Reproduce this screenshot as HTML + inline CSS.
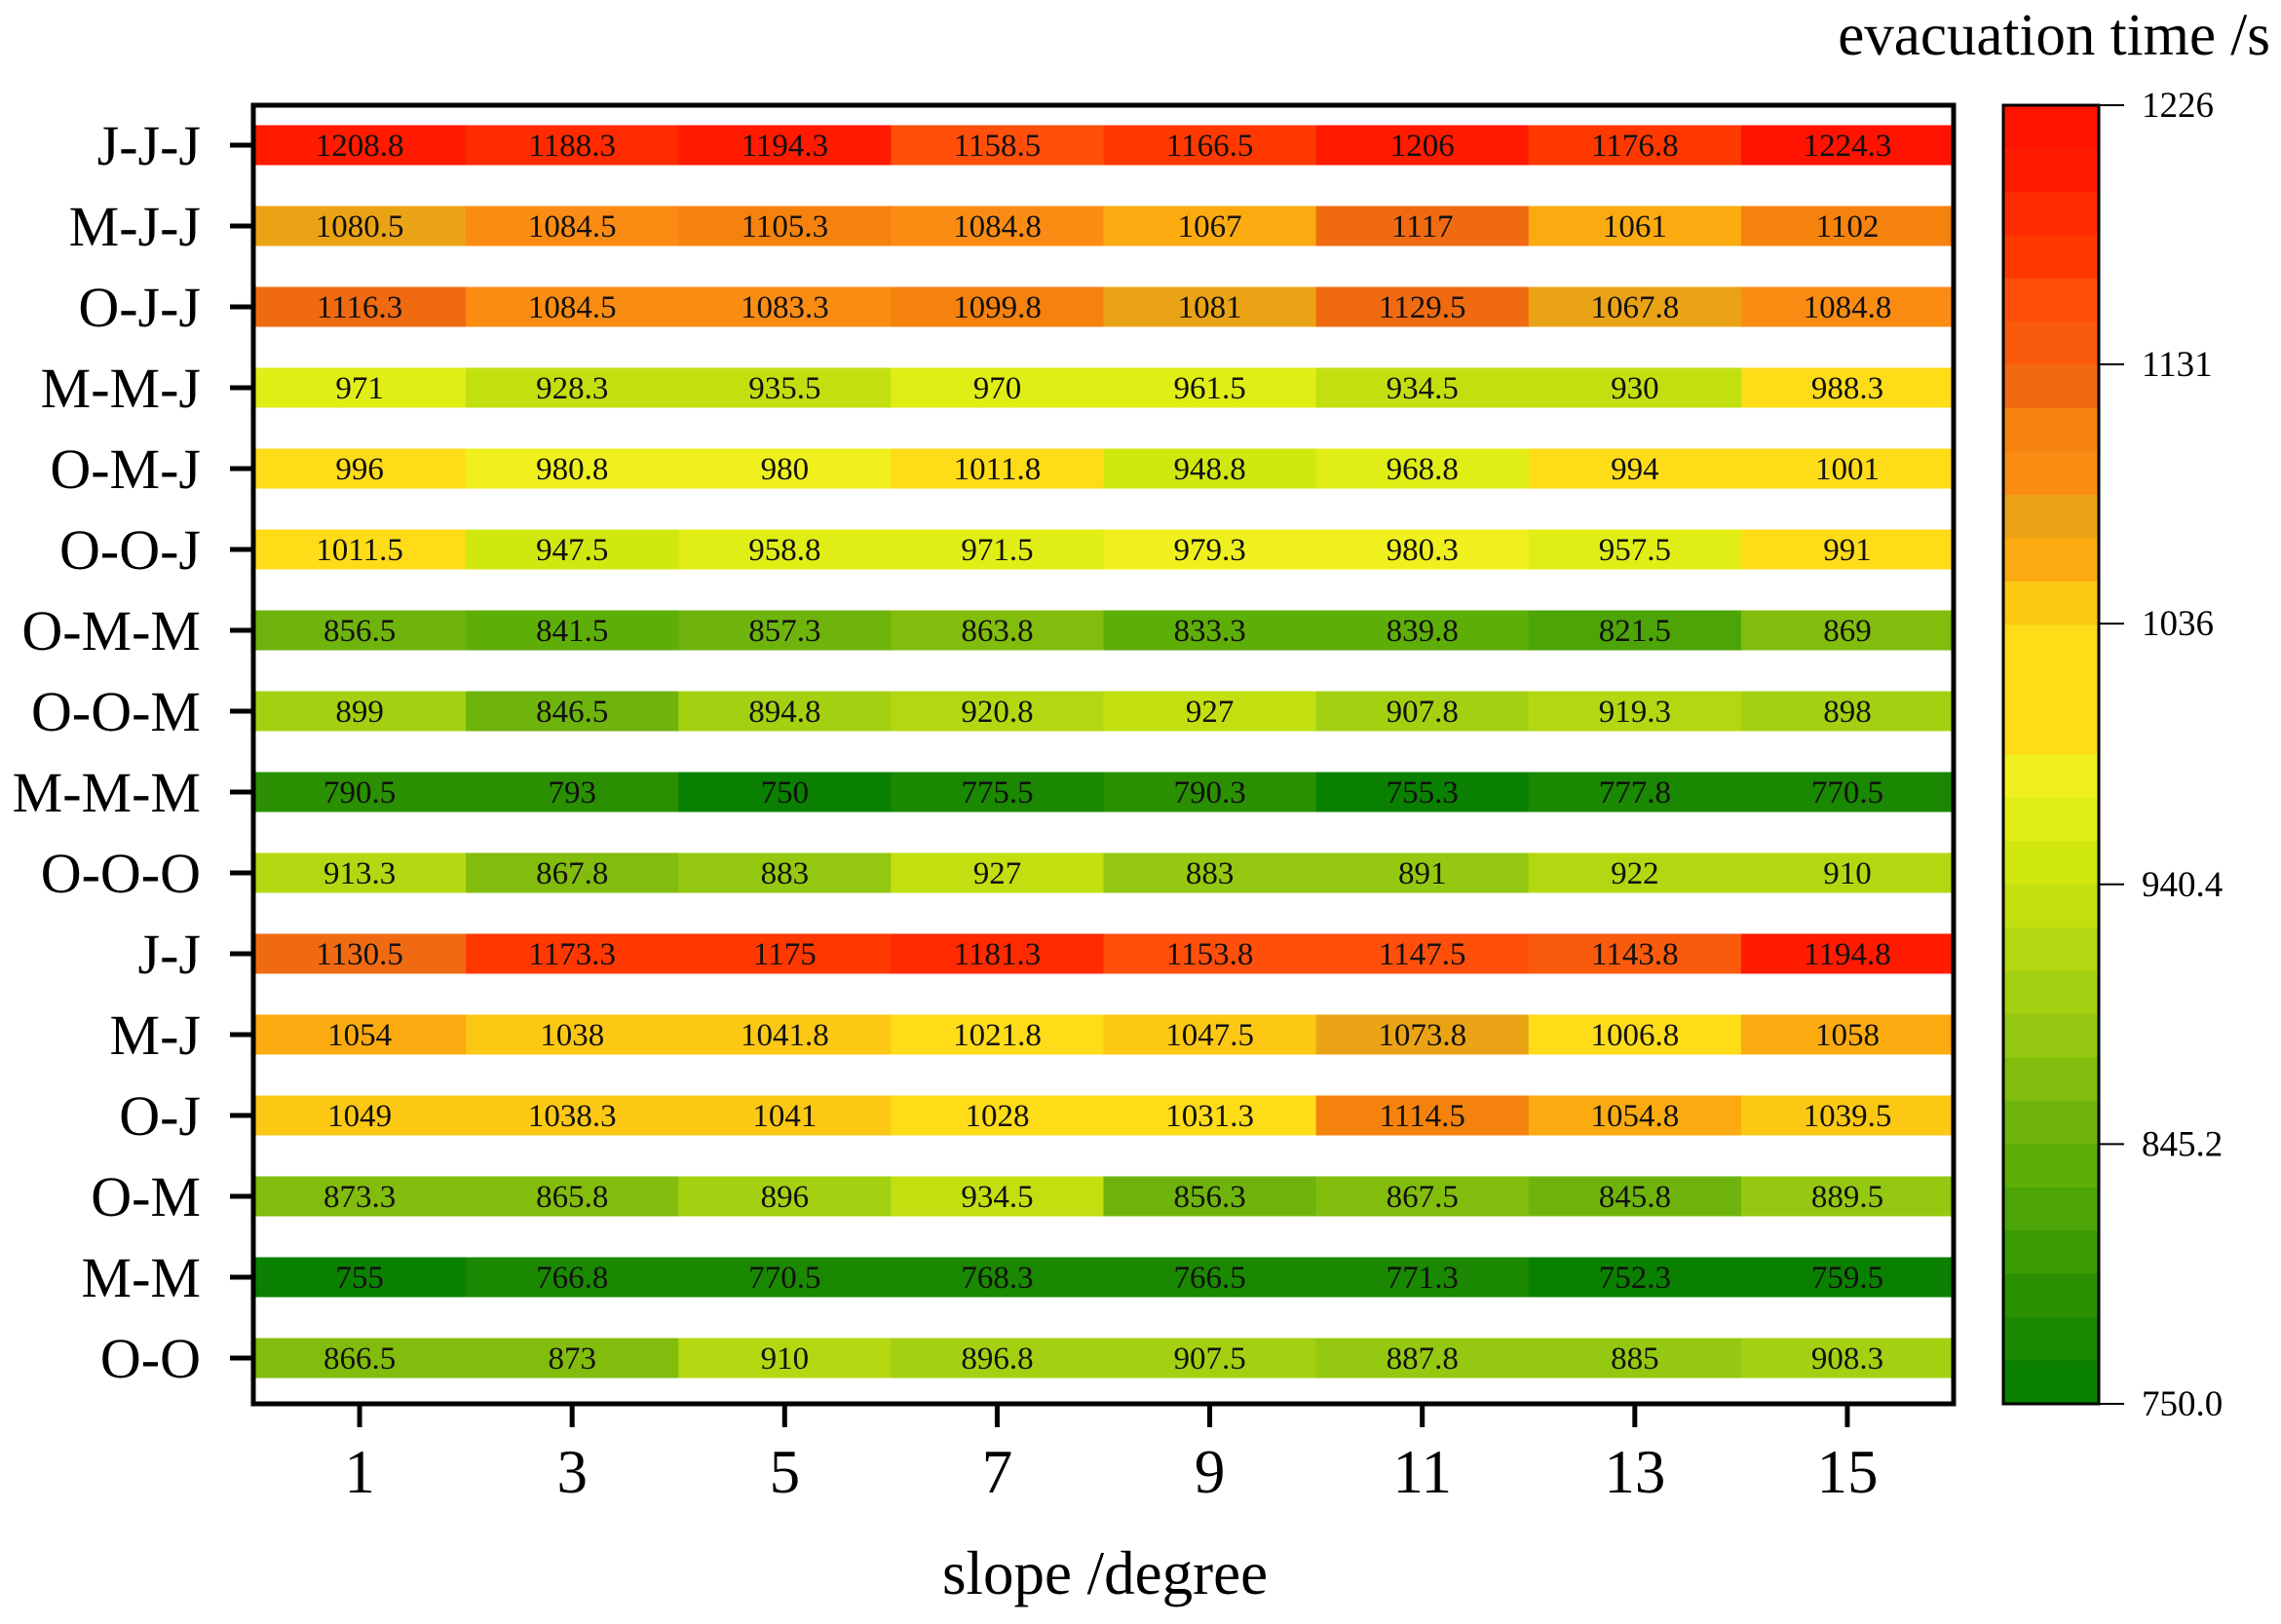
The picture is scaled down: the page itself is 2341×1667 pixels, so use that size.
<!DOCTYPE html>
<html><head><meta charset="utf-8"><style>
html,body{margin:0;padding:0;background:#fff;}
svg{display:block;font-family:"Liberation Serif",serif;}
</style></head><body>
<svg id="chart" width="2341" height="1667" viewBox="0 0 2341 1667" xmlns="http://www.w3.org/2000/svg">
<g id="cells"></g>
<g id="axes"></g>
<g id="cbar"></g>
<text x="2330" y="56" font-size="61" text-anchor="end">evacuation time /s</text>
<text x="1134" y="1636" font-size="63" text-anchor="middle">slope /degree</text>
</svg>
<script>
const categories = ["J-J-J","M-J-J","O-J-J","M-M-J","O-M-J","O-O-J","O-M-M","O-O-M","M-M-M","O-O-O","J-J","M-J","O-J","O-M","M-M","O-O"];
const slopes = [1,3,5,7,9,11,13,15];
const rowJJJ = [1208.8,1188.3,1194.3,1158.5,1166.5,1206,1176.8,1224.3];
const rowMJJ = [1080.5,1084.5,1105.3,1084.8,1067,1117,1061,1102];
const rowOJJ = [1116.3,1084.5,1083.3,1099.8,1081,1129.5,1067.8,1084.8];
const rowMMJ = [971,928.3,935.5,970,961.5,934.5,930,988.3];
const rowOMJ = [996,980.8,980,1011.8,948.8,968.8,994,1001];
const rowOOJ = [1011.5,947.5,958.8,971.5,979.3,980.3,957.5,991];
const rowOMM = [856.5,841.5,857.3,863.8,833.3,839.8,821.5,869];
const rowOOM = [899,846.5,894.8,920.8,927,907.8,919.3,898];
const rowMMM = [790.5,793,750,775.5,790.3,755.3,777.8,770.5];
const rowOOO = [913.3,867.8,883,927,883,891,922,910];
const rowJJ = [1130.5,1173.3,1175,1181.3,1153.8,1147.5,1143.8,1194.8];
const rowMJ = [1054,1038,1041.8,1021.8,1047.5,1073.8,1006.8,1058];
const rowOJ = [1049,1038.3,1041,1028,1031.3,1114.5,1054.8,1039.5];
const rowOM = [873.3,865.8,896,934.5,856.3,867.5,845.8,889.5];
const rowMM = [755,766.8,770.5,768.3,766.5,771.3,752.3,759.5];
const rowOO = [866.5,873,910,896.8,907.5,887.8,885,908.3];
const values = [rowJJJ,rowMJJ,rowOJJ,rowMMJ,rowOMJ,rowOOJ,rowOMM,rowOOM,rowMMM,rowOOO,rowJJ,rowMJ,rowOJ,rowOM,rowMM,rowOO];
const cbMin = 750.0, cbMax = 1226;
const cbTicks = [1226,1131,1036,940.4,845.2,750.0];
const cbTickLabels = ["1226","1131","1036","940.4","845.2","750.0"];

const palette = ["#ff1200","#ff1a00","#ff2a00","#ff3800","#ff4f0a","#fa5a0c","#f06a12","#f5820c","#fa8c14","#eba316","#fbab10","#fdc814","#fedc18","#fedc18","#fedc18","#f0f01e","#e0ee16","#d0e810","#c2e010","#b3d812","#a4d012","#95c810","#82bc0c","#6eb40c","#5eae08","#4ca406","#3a9a04","#2a9002","#1a8800","#0a8000"];
function colorFor(v){let t=(cbMax-v)/(cbMax-cbMin);let i=Math.floor(t*palette.length);i=Math.max(0,Math.min(palette.length-1,i));return palette[i];}

const NS="http://www.w3.org/2000/svg";
function mk(tag,attrs,parent){const e=document.createElementNS(NS,tag);for(const k in attrs)e.setAttribute(k,attrs[k]);parent.appendChild(e);return e;}
const L=260,R=2005,T=108,B=1441;
const colW=(R-L)/slopes.length;
const xCenter=i=>L+colW*(i+0.5);
const yCenter=j=>149+83*j;
const barH=41;
const cb={x0:2056,x1:2154,y0:108,y1:1441};
const cbY=v=>cb.y1-(v-cbMin)/(cbMax-cbMin)*(cb.y1-cb.y0);

const gc=document.getElementById('cells');
values.forEach((row,j)=>{row.forEach((v,i)=>{
  const r=mk('rect',{x:L+colW*i,y:yCenter(j)-barH/2,width:colW+0.5,height:barH,fill:colorFor(v)},gc);
  
  
  const t=mk('text',{x:xCenter(i),y:yCenter(j)+11,'font-size':33,'text-anchor':'middle',fill:'#111'},gc);
  
  
  t.textContent=String(v);
});});

const ga=document.getElementById('axes');
const fr=mk('rect',{x:L,y:T,width:R-L,height:B-T,fill:'none',stroke:'#000','stroke-width':5},ga);


categories.forEach((c,j)=>{
  const tk=mk('line',{x1:236,x2:L,y1:yCenter(j),y2:yCenter(j),stroke:'#000','stroke-width':5},ga);
  
  
  const t=mk('text',{x:206,y:yCenter(j)+20,'font-size':58,'text-anchor':'end'},ga);
  
  
  t.textContent=c;
});
slopes.forEach((s,i)=>{
  const tk=mk('line',{x1:xCenter(i),x2:xCenter(i),y1:B,y2:B+24,stroke:'#000','stroke-width':5},ga);
  
  
  const t=mk('text',{x:xCenter(i),y:1532,'font-size':63,'text-anchor':'middle'},ga);
  
  
  t.textContent=String(s);
});

const gb=document.getElementById('cbar');
const n=palette.length, segH=(cb.y1-cb.y0)/n;
palette.forEach((col,k)=>{
  const r=mk('rect',{x:cb.x0,y:cb.y0+k*segH,width:cb.x1-cb.x0,height:segH+0.6,fill:col},gb);
  
  
});
const cf=mk('rect',{x:cb.x0,y:cb.y0,width:cb.x1-cb.x0,height:cb.y1-cb.y0,fill:'none',stroke:'#000','stroke-width':3},gb);


cbTicks.forEach((v,k)=>{
  const tk=mk('line',{x1:cb.x1,x2:cb.x1+26,y1:cbY(v),y2:cbY(v),stroke:'#000','stroke-width':2},gb);
  
  
  const t=mk('text',{x:2198,y:cbY(v)+12,'font-size':37},gb);
  
  
  t.textContent=cbTickLabels[k];
});
</script>
</body></html>
